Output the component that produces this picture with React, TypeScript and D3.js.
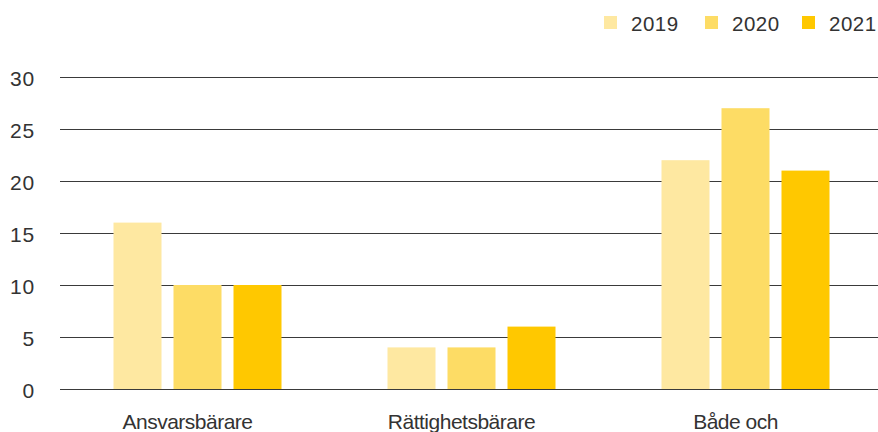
import React from "react";
import * as d3 from "d3";

const categories = ["Ansvarsbärare", "Rättighetsbärare", "Både och"];
const seriesNames = ["2019", "2020", "2021"];
const values2019 = [16, 4, 22];
const values2020 = [10, 4, 27];
const values2021 = [10, 6, 21];
const seriesValues = [values2019, values2020, values2021];
const colors = ["#FEE8A1", "#FDDC65", "#FFC800"];
const yTicks = [0, 5, 10, 15, 20, 25, 30];

const W = 878;
const H = 432;
const font = "'Liberation Sans', Arial, sans-serif";

export default function App() {
  const x0 = d3.scaleBand<string>().domain(categories).range([60.5, 882.5]).padding(0);
  const groupW = 168;
  const x1 = d3.scaleBand<string>().domain(seriesNames).range([0, groupW]).paddingInner(0.2).paddingOuter(0);
  const y = d3.scaleLinear().domain([0, 30]).range([389, 77]);
  const plotLeft = 60;
  const plotRight = 878;
  const legendX = [604, 705, 802];

  return (
    <svg width={W} height={H} style={{ position: "absolute", left: 0, top: 0, display: "block" }}>
      {yTicks.map((t) => (
        <g key={t}>
          <line x1={plotLeft} x2={plotRight} y1={Math.round(y(t)) + 0.5} y2={Math.round(y(t)) + 0.5} stroke="#3a3a3a" strokeWidth={1} />
          <text x={35} y={y(t) + 2} dy="0.35em" textAnchor="end" fontFamily={font} fontSize={21} letterSpacing={0.8} fill="#333">
            {t}
          </text>
        </g>
      ))}
      {categories.map((c, ci) => {
        const gx = (x0(c) as number) + (x0.bandwidth() - groupW) / 2;
        return (
          <g key={c}>
            {seriesNames.map((s, si) => {
              const v = seriesValues[si][ci];
              return (
                <rect
                  key={s}
                  x={gx + (x1(s) as number)}
                  y={y(v)}
                  width={x1.bandwidth()}
                  height={y(0) - y(v)}
                  fill={colors[si]}
                />
              );
            })}
            <text x={gx + groupW / 2 - 10} y={428.5} textAnchor="middle" fontFamily={font} fontSize={21} letterSpacing={-0.5} fill="#333">
              {c}
            </text>
          </g>
        );
      })}
      {seriesNames.map((s, si) => (
        <g key={s}>
          <rect x={legendX[si]} y={16} width={13} height={13} fill={colors[si]} />
          <text x={legendX[si] + 27} y={23.5} dy="0.35em" fontFamily={font} fontSize={20.5} letterSpacing={0.5} fill="#333">
            {s}
          </text>
        </g>
      ))}
    </svg>
  );
}
